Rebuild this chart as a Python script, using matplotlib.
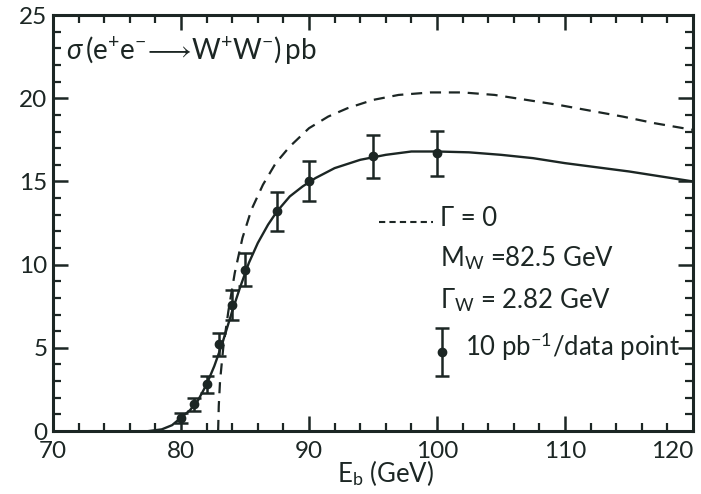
import matplotlib.pyplot as plt
from matplotlib.ticker import MultipleLocator

plt.rcParams['font.family'] = ['Lato', 'DejaVu Sans']
plt.rcParams['mathtext.fontset'] = 'custom'
plt.rcParams['mathtext.rm'] = 'Lato'
plt.rcParams['mathtext.it'] = 'Lato:italic'
plt.rcParams['mathtext.bf'] = 'Lato:bold'
ink = '#1c2624'

x_ticks = [70, 80, 90, 100, 110, 120]
y_ticks = [0, 5, 10, 15, 20, 25]

# data points (beam energy GeV, cross section pb, error pb)
E_data = [80, 81, 82, 83, 84, 85, 87.5, 90, 95, 100]
sigma_data = [0.8, 1.6, 2.8, 5.2, 7.6, 9.7, 13.2, 15.0, 16.5, 16.7]
sigma_err = [0.3, 0.4, 0.5, 0.7, 0.9, 1.0, 1.15, 1.2, 1.3, 1.35]

# solid curve, Gamma_W = 2.82 GeV
E_full = [77.5, 78.5, 79.3, 80, 80.7, 81.3, 82, 82.6, 83.2, 84, 84.6, 85.3,
          86, 86.8, 87.5, 88.5, 89.5, 90.5, 92, 94, 96, 98, 100, 102.5, 105,
          107.5, 110, 112.5, 115, 117.5, 120]
sigma_full = [0.0, 0.1, 0.35, 0.8, 1.25, 1.8, 2.8, 3.9, 5.2, 7.2, 8.6, 10.1,
              11.3, 12.4, 13.2, 14.1, 14.7, 15.2, 15.8, 16.3, 16.6, 16.8,
              16.8, 16.75, 16.6, 16.4, 16.1, 15.85, 15.6, 15.3, 15.0]

# dashed curve, Gamma = 0
E_zero = [82.9, 82.95, 83.05, 83.3, 83.7, 84.2, 84.8, 85.5, 86.4, 87.4, 88.5,
          90, 91.5, 93, 95, 97, 99.5, 102, 104.5, 107, 109.5, 112, 114.5,
          117, 120]
sigma_zero = [0.0, 1.5, 3.0, 5.0, 7.2, 9.5, 11.6, 13.3, 14.8, 16.1, 17.1,
              18.2, 18.9, 19.4, 19.9, 20.2, 20.35, 20.35, 20.2, 19.9, 19.6,
              19.25, 18.9, 18.5, 18.1]

fig = plt.figure(figsize=(7.01, 4.94), dpi=100)
ax = fig.add_axes([0.0756, 0.1275, 0.913, 0.842])

ax.plot(E_zero, sigma_zero, color=ink, lw=1.6, ls=(0, (5, 3.5)))
ax.plot(E_full, sigma_full, color=ink, lw=1.7)
ax.errorbar(E_data, sigma_data, yerr=sigma_err, fmt='o', color=ink, ms=6,
            elinewidth=1.8, capsize=5, capthick=1.8)

ax.set_xlim(70, 120)
ax.set_ylim(0, 25)
ax.set_xticks(x_ticks, [str(t) for t in x_ticks])
ax.set_yticks(y_ticks, [str(t) for t in y_ticks])
ax.xaxis.set_minor_locator(MultipleLocator(2))
ax.yaxis.set_minor_locator(MultipleLocator(1))
ax.tick_params(which='both', direction='in', top=True, right=True,
               color=ink, labelcolor=ink, labelsize=17.5)
ax.tick_params(which='major', length=11, width=1.8)
ax.tick_params(which='minor', length=6, width=1.6)
ax.tick_params(axis='x', pad=7)
ax.tick_params(axis='y', pad=4)
for s in ax.spines.values():
    s.set_linewidth(2.2)
    s.set_color(ink)
ax.get_xticklabels()[-1].set_horizontalalignment('right')

ax.text(71.0, 22.9, r'$\sigma\,(\mathrm{e^{+}e^{-}}\!\longrightarrow\!\mathrm{W^{+}W^{-}})\,\mathrm{pb}$',
        fontsize=20, color=ink, va='center', ha='left')

# legend block
ax.plot([95.5, 99.7], [12.56, 12.56], color=ink, lw=1.5, ls=(0, (3, 2)))
ax.text(100.2, 12.8, 'Γ = 0', fontsize=18.5, color=ink, va='center')
ax.text(100.2, 10.4, r'M$_\mathrm{W}$ =82.5 GeV', fontsize=18.5, color=ink, va='center')
ax.text(100.2, 7.9, r'Γ$_\mathrm{W}$ = 2.82 GeV', fontsize=18.5, color=ink, va='center')
ax.errorbar([100.4], [4.75], yerr=[1.45], fmt='o', color=ink, ms=6,
            elinewidth=1.8, capsize=5, capthick=1.8)
ax.text(102.2, 5.05, r'10 pb$^{-1}$/data point', fontsize=18.5, color=ink, va='center')

ax.text(0.52, -0.1, r'E$_\mathrm{b}$ (GeV)', transform=ax.transAxes,
        fontsize=18.5, color=ink, ha='center', va='center')

fig.savefig('out.png', dpi=100)
